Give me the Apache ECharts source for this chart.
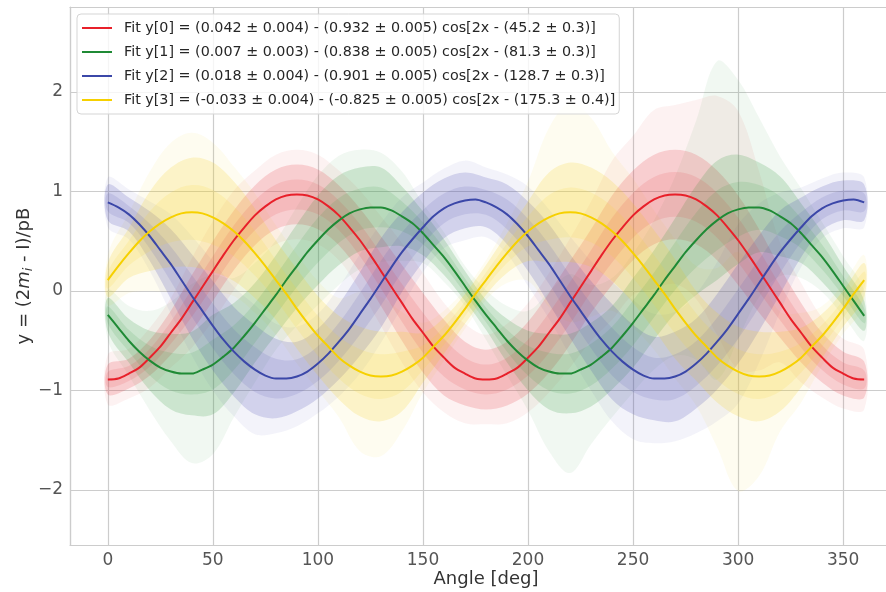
<!DOCTYPE html>
<html>
<head>
<meta charset="utf-8">
<script src="https://cdn.jsdelivr.net/npm/echarts@6/dist/echarts.min.js"></script>
<style>html,body{margin:0;padding:0;background:#fff}#c{width:886px;height:592px}</style>
</head>
<body>
<div id="c"></div>
<script>
// Angles (deg) of the fitted-curve readings (every 5 deg)
const fitAngles = [0,5,10,15,20,25,30,35,40,45,50,55,60,65,70,75,80,85,90,95,100,105,110,115,120,125,130,135,140,145,150,155,160,165,170,175,180,185,190,195,200,205,210,215,220,225,230,235,240,245,250,255,260,265,270,275,280,285,290,295,300,305,310,315,320,325,330,335,340,345,350,355,360];

// Fitted curves
const fit0 = [-0.89,-0.88,-0.83,-0.77,-0.67,-0.56,-0.42,-0.28,-0.12,0.04,0.20,0.36,0.51,0.64,0.76,0.85,0.92,0.96,0.97,0.96,0.92,0.85,0.76,0.64,0.51,0.36,0.20,0.04,-0.12,-0.28,-0.42,-0.56,-0.67,-0.77,-0.83,-0.88,-0.89,-0.88,-0.83,-0.77,-0.67,-0.56,-0.42,-0.28,-0.12,0.04,0.20,0.36,0.51,0.64,0.76,0.85,0.92,0.96,0.97,0.96,0.92,0.85,0.76,0.64,0.51,0.36,0.20,0.04,-0.12,-0.28,-0.42,-0.56,-0.67,-0.77,-0.83,-0.88,-0.89];
const fit1 = [-0.24,-0.37,-0.50,-0.61,-0.70,-0.77,-0.81,-0.83,-0.83,-0.79,-0.74,-0.66,-0.57,-0.45,-0.32,-0.18,-0.04,0.11,0.25,0.39,0.51,0.62,0.71,0.78,0.82,0.84,0.84,0.81,0.75,0.68,0.58,0.46,0.34,0.20,0.05,-0.10,-0.24,-0.37,-0.50,-0.61,-0.70,-0.77,-0.81,-0.83,-0.83,-0.79,-0.74,-0.66,-0.57,-0.45,-0.32,-0.18,-0.04,0.11,0.25,0.39,0.51,0.62,0.71,0.78,0.82,0.84,0.84,0.81,0.75,0.68,0.58,0.46,0.34,0.20,0.05,-0.10,-0.25];
const fit2 = [0.89,0.84,0.77,0.67,0.55,0.41,0.27,0.11,-0.05,-0.20,-0.35,-0.49,-0.61,-0.71,-0.79,-0.85,-0.88,-0.88,-0.86,-0.81,-0.73,-0.63,-0.51,-0.38,-0.23,-0.08,0.08,0.24,0.39,0.52,0.64,0.75,0.83,0.88,0.91,0.92,0.89,0.84,0.77,0.67,0.55,0.41,0.27,0.11,-0.05,-0.20,-0.35,-0.49,-0.61,-0.71,-0.79,-0.85,-0.88,-0.88,-0.86,-0.81,-0.73,-0.63,-0.51,-0.38,-0.23,-0.08,0.08,0.24,0.39,0.52,0.64,0.75,0.83,0.88,0.91,0.92,0.89];
const fit3 = [0.11,0.25,0.38,0.50,0.60,0.68,0.74,0.78,0.79,0.78,0.74,0.68,0.60,0.50,0.38,0.25,0.11,-0.03,-0.18,-0.32,-0.45,-0.56,-0.67,-0.75,-0.81,-0.85,-0.86,-0.85,-0.81,-0.75,-0.67,-0.56,-0.45,-0.32,-0.18,-0.03,0.11,0.25,0.38,0.50,0.60,0.68,0.74,0.78,0.79,0.78,0.74,0.68,0.60,0.50,0.38,0.25,0.11,-0.03,-0.18,-0.32,-0.45,-0.56,-0.67,-0.75,-0.81,-0.85,-0.86,-0.85,-0.81,-0.75,-0.67,-0.56,-0.45,-0.32,-0.18,-0.03,0.11];

// Angles (deg) of the point-cloud readings (every 10 deg)
const cloudAngles = [0,10,20,30,40,50,60,70,80,90,100,110,120,130,140,150,160,170,180,190,200,210,220,230,240,250,260,270,280,290,300,310,320,330,340,350,360];

// Half-height of the dense point cloud around each curve
const spread0 = [0.15,0.15,0.18,0.22,0.28,0.30,0.30,0.30,0.30,0.30,0.30,0.30,0.32,0.35,0.38,0.40,0.38,0.32,0.30,0.32,0.36,0.40,0.42,0.42,0.45,0.45,0.45,0.45,0.45,0.45,0.45,0.42,0.35,0.30,0.25,0.22,0.18];
const spread1 = [0.17,0.22,0.30,0.38,0.42,0.50,0.45,0.40,0.40,0.42,0.45,0.45,0.42,0.40,0.30,0.22,0.18,0.15,0.15,0.22,0.30,0.38,0.40,0.42,0.42,0.45,0.45,0.48,0.55,0.60,0.55,0.45,0.40,0.30,0.25,0.20,0.15];
const spread2 = [0.18,0.17,0.25,0.35,0.42,0.45,0.45,0.45,0.40,0.35,0.35,0.38,0.42,0.45,0.40,0.35,0.30,0.28,0.25,0.30,0.35,0.40,0.42,0.45,0.48,0.45,0.42,0.45,0.45,0.48,0.50,0.48,0.42,0.30,0.22,0.20,0.18];
const spread3 = [0.17,0.25,0.40,0.50,0.55,0.55,0.50,0.45,0.40,0.40,0.40,0.42,0.45,0.45,0.40,0.25,0.18,0.15,0.15,0.20,0.30,0.45,0.50,0.50,0.50,0.50,0.50,0.50,0.45,0.45,0.45,0.45,0.40,0.30,0.22,0.18,0.17];

// Half-length reached by the faint error bars
const errbar0 = [0.25,0.25,0.30,0.35,0.45,0.50,0.50,0.45,0.45,0.45,0.45,0.45,0.50,0.55,0.60,0.60,0.55,0.50,0.45,0.50,0.55,0.60,0.65,0.70,0.80,0.80,0.90,0.90,1.00,1.20,1.30,1.00,0.60,0.50,0.40,0.35,0.30];
const errbar1 = [0.25,0.35,0.50,0.70,0.90,0.90,0.70,0.60,0.55,0.60,0.65,0.65,0.60,0.55,0.45,0.30,0.25,0.20,0.25,0.35,0.50,0.80,1.00,0.80,0.70,0.70,0.75,0.90,1.20,1.60,1.30,0.90,0.60,0.45,0.35,0.30,0.25];
const errbar2 = [0.25,0.25,0.35,0.50,0.60,0.65,0.65,0.65,0.55,0.50,0.50,0.55,0.60,0.60,0.55,0.45,0.40,0.40,0.35,0.40,0.50,0.55,0.60,0.65,0.70,0.70,0.65,0.65,0.70,0.80,0.90,0.80,0.60,0.40,0.30,0.28,0.25];
const errbar3 = [0.25,0.40,0.60,0.75,0.80,0.75,0.65,0.60,0.55,0.55,0.55,0.60,0.80,0.80,0.60,0.35,0.25,0.20,0.20,0.30,0.50,0.90,1.10,1.00,0.80,0.75,0.70,0.70,0.70,0.90,1.20,1.00,0.60,0.45,0.30,0.25,0.25];

const fitNames = [
  'Fit y[0] = (0.042 ± 0.004) - (0.932 ± 0.005) cos[2x - (45.2 ± 0.3)]',
  'Fit y[1] = (0.007 ± 0.003) - (0.838 ± 0.005) cos[2x - (81.3 ± 0.3)]',
  'Fit y[2] = (0.018 ± 0.004) - (0.901 ± 0.005) cos[2x - (128.7 ± 0.3)]',
  'Fit y[3] = (-0.033 ± 0.004) - (-0.825 ± 0.005) cos[2x - (175.3 ± 0.4)]'
];
const xTicks = [0,50,100,150,200,250,300,350];
const yTicks = [-2,-1,0,1,2];

const lineColors = ['#e8202a', '#1f8a35', '#3b47a8', '#f6d000'];
const cloudColors = ['#e6404a', '#3a9a48', '#5252b4', '#f5d22a'];

const fits = [fit0, fit1, fit2, fit3];
const spreads = [spread0, spread1, spread2, spread3];
const errbars = [errbar0, errbar1, errbar2, errbar3];

// cloud centre at each cloud angle = curve reading at the same angle
function centreAt(fit, a) { return fit[fitAngles.indexOf(a)]; }

function band(id, fit, half, scale, color, opacity) {
  return {
    type: 'custom', name: id, silent: true, z: 1, clip: true,
    data: [0],
    renderItem: function (params, api) {
      const up = cloudAngles.map((a, i) => api.coord([a, centreAt(fit, a) + half[i] * scale]));
      const lo = cloudAngles.map((a, i) => api.coord([a, centreAt(fit, a) - half[i] * scale])).reverse();
      return {
        type: 'polygon',
        shape: { points: up.concat(lo), smooth: 0.35 },
        style: { fill: color, opacity: opacity }
      };
    }
  };
}

const series = [];
for (let k = 0; k < 4; k++) series.push(band('bar' + k, fits[k], errbars[k], 1, cloudColors[k], 0.07));
for (let k = 0; k < 4; k++) series.push(band('cloud' + k, fits[k], spreads[k], 1, cloudColors[k], 0.2));
for (let k = 0; k < 4; k++) series.push(band('core' + k, fits[k], spreads[k], 0.5, cloudColors[k], 0.14));
for (let k = 0; k < 4; k++) {
  series.push({
    type: 'line', name: fitNames[k], z: 5,
    data: fitAngles.map((a, i) => [a, fits[k][i]]),
    smooth: 0.3, showSymbol: false, symbol: 'none',
    lineStyle: { color: lineColors[k], width: 2 },
    itemStyle: { color: lineColors[k] }
  });
}

const spineStyle = { show: true, onZero: false, lineStyle: { color: '#cccccc', width: 1.2 } };

const chart = echarts.init(document.getElementById('c'), null, { renderer: 'canvas' });
chart.setOption({
  animation: false,
  backgroundColor: '#ffffff',
  textStyle: { fontFamily: 'DejaVu Sans' },
  grid: { left: 70, top: 7, right: -16, bottom: 47, outerBoundsMode: 'none', containLabel: false, show: false },
  legend: {
    show: true, orient: 'vertical', left: 77, top: 14,
    padding: [6, 4, 6, 5], itemGap: 8, itemWidth: 30, itemHeight: 2,
    backgroundColor: 'rgba(255,255,255,0.8)', borderColor: '#d5d5d5', borderWidth: 1, borderRadius: 4,
    data: fitNames.map((n, k) => ({ name: n, icon: 'rect', itemStyle: { color: lineColors[k] } })),
    textStyle: { fontFamily: 'DejaVu Sans', fontSize: 14.3, color: '#262626', lineHeight: 16, padding: [0, 0, 0, 7] }
  },
  xAxis: [{
    type: 'value', min: -18, max: 378, splitNumber: 8, position: 'bottom',
    name: 'Angle [deg]', nameLocation: 'middle', nameGap: 25, nameMoveOverlap: false,
    nameTextStyle: { fontFamily: 'DejaVu Sans', fontSize: 18, color: '#333333' },
    axisLine: spineStyle, axisTick: { show: false },
    axisLabel: {
      margin: 7, fontFamily: 'DejaVu Sans', fontSize: 17, color: '#555555',
      formatter: v => xTicks.indexOf(Math.round(v)) >= 0 && Math.abs(v - Math.round(v)) < 1e-6 ? String(Math.round(v)) : ''
    },
    splitLine: { show: true, lineStyle: { color: '#cccccc', width: 1.2 } }
  }, {
    type: 'value', min: -18, max: 378, position: 'top',
    axisLine: spineStyle, axisTick: { show: false }, axisLabel: { show: false }, splitLine: { show: false }
  }],
  yAxis: {
    type: 'value', min: -2.553, max: 2.854, splitNumber: 5,
    name: 'y = (2{it|m}{sub|i} - I)/pB', nameLocation: 'middle', nameGap: 35, nameRotate: 90, nameMoveOverlap: false,
    nameTextStyle: {
      fontFamily: 'DejaVu Sans', fontSize: 18, color: '#333333',
      rich: {
        it: { fontFamily: 'DejaVu Sans', fontStyle: 'italic', fontSize: 18, color: '#333333' },
        sub: { fontFamily: 'DejaVu Sans', fontStyle: 'italic', fontSize: 12.5, color: '#333333', padding: [8, 0, 0, 0] }
      }
    },
    axisLine: spineStyle, axisTick: { show: false },
    axisLabel: {
      margin: 7, fontFamily: 'DejaVu Sans', fontSize: 17, color: '#555555',
      formatter: v => {
        const r = Math.round(v);
        if (Math.abs(v - r) > 1e-6 || yTicks.indexOf(r) < 0) return '';
        return r < 0 ? '\u2212' + Math.abs(r) : String(r);
      }
    },
    splitLine: { show: true, lineStyle: { color: '#cccccc', width: 1.2 } }
  },
  series: series
});
</script>
</body>
</html>
